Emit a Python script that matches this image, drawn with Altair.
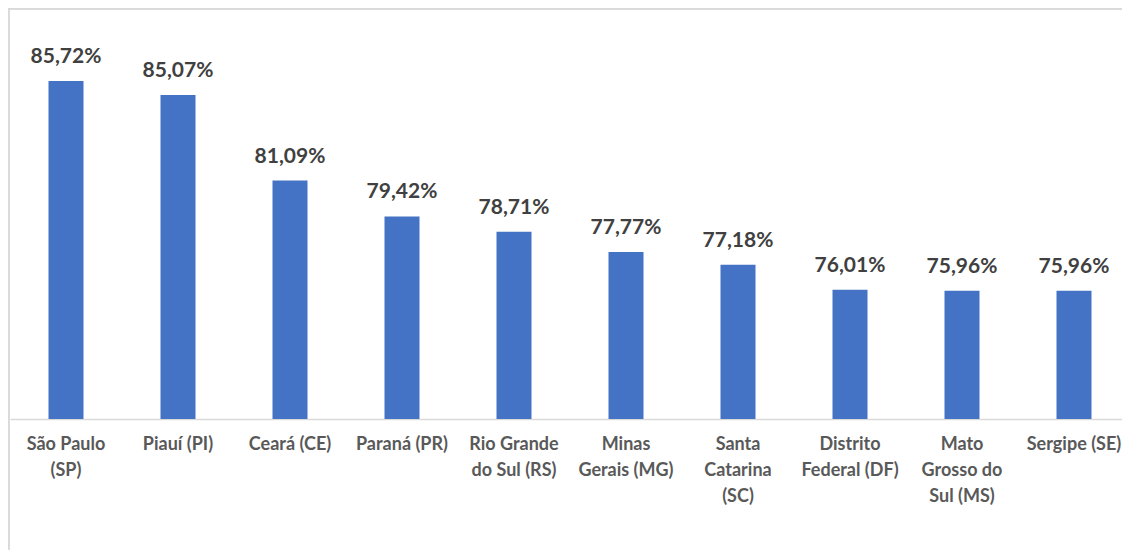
import altair as alt
import pandas as pd

estados = [
    "São Paulo|(SP)", "Piauí (PI)", "Ceará (CE)", "Paraná (PR)",
    "Rio Grande|do Sul (RS)", "Minas|Gerais (MG)", "Santa|Catarina|(SC)",
    "Distrito|Federal (DF)", "Mato|Grosso do|Sul (MS)", "Sergipe (SE)",
]
valores = [85.72, 85.07, 81.09, 79.42, 78.71, 77.77, 77.18, 76.01, 75.96, 75.96]

df = pd.DataFrame({"estado": estados, "valor": valores})

FONT = "Lato"
H = 411
W = 1112

x = alt.X("estado:N", sort=estados, title=None,
          scale=alt.Scale(paddingInner=0.6875, paddingOuter=0.34375, range=[0, 1120]),
          axis=alt.Axis(labelAngle=0, labelExpr="split(datum.value, '|')",
                        labelFont=FONT, labelFontSize=18, labelFontWeight="bold",
                        labelColor="#595959", labelLineHeight=26, labelPadding=16,
                        labelBaseline="top",
                        ticks=False, domainColor="#d9d9d9", domainWidth=1.5,
                        labelLimit=200))
y = alt.Y("valor:Q", title=None,
          scale=alt.Scale(domain=[70, 70 + H / 21.5], nice=False, zero=False),
          axis=None)

bars = alt.Chart(df).mark_bar(color="#4472C4", clip=False).encode(x=x, y=y, y2=alt.datum(70))

labels = alt.Chart(df).transform_calculate(
    rot="replace(format(datum.valor, '.2f'), '.', ',') + '%'"
).mark_text(font=FONT, fontSize=21, fontWeight="bold", color="#404040",
            baseline="alphabetic", dy=-18).encode(x=x, y=y, text="rot:N")

frame_left = alt.Chart(df).mark_rule(color="#d9d9d9", strokeWidth=1.5).encode(
    x=alt.value(-1.5), y=alt.value(0), y2=alt.value(560))
frame_top = alt.Chart(df).mark_rule(color="#d9d9d9", strokeWidth=1.5).encode(
    x=alt.value(-2), x2=alt.value(1130), y=alt.value(0.5))

chart = alt.layer(frame_left, frame_top, bars, labels).properties(
    width=W, height=H,
    autosize=alt.AutoSizeParams(type="none"),
    padding={"left": 2, "top": 0, "right": 0, "bottom": 131},
).configure_view(stroke=None)

chart.save("out.html", embed_options={"renderer": "svg", "actions": False})
